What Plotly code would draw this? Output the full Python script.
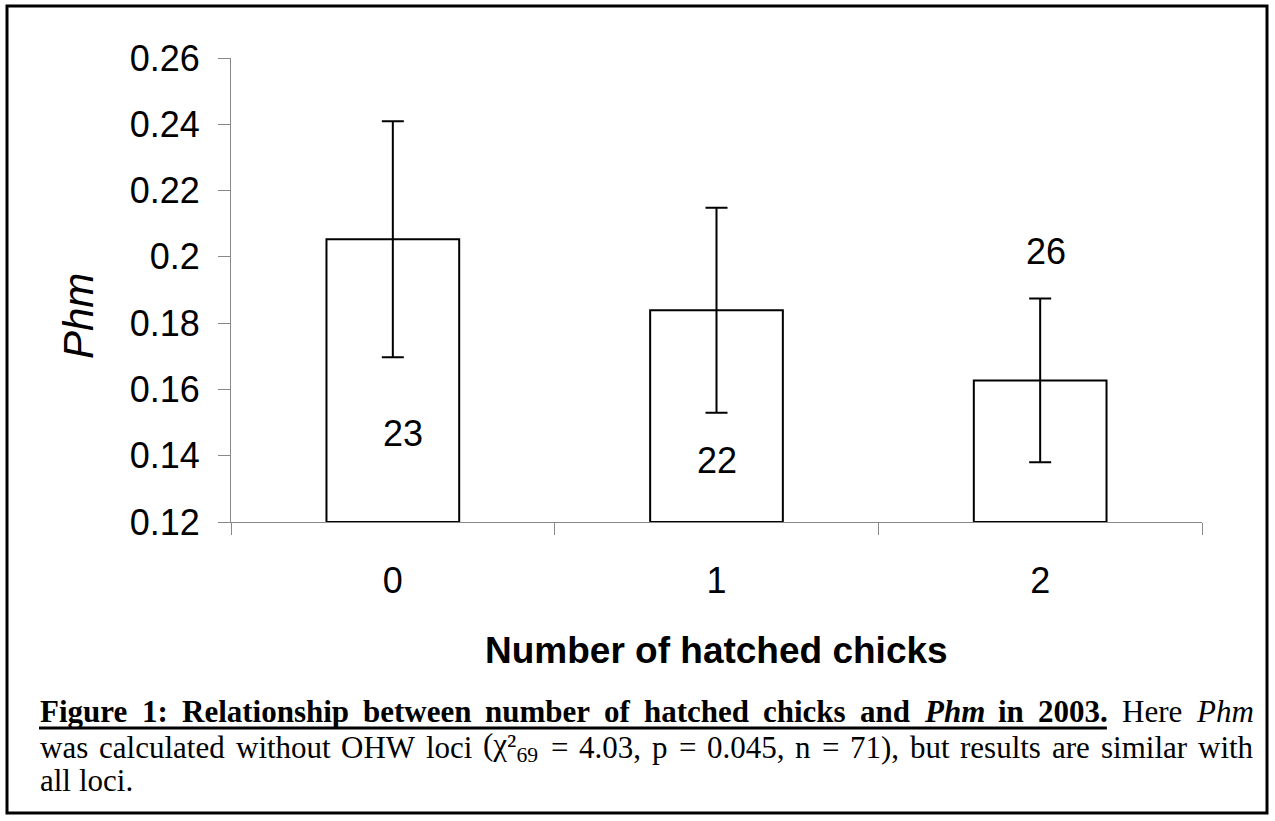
import re
import plotly.graph_objects as go

# ---- data ----
categories = ["0", "1", "2"]
means = [0.2053, 0.1839, 0.1627]
errors = [0.0356, 0.0309, 0.0247]
n_labels = ["23", "22", "26"]
y_ticks = [0.12, 0.14, 0.16, 0.18, 0.20, 0.22, 0.24, 0.26]
y_tick_text = ["0.12", "0.14", "0.16", "0.18", "0.2", "0.22", "0.24", "0.26"]
x_title = "Number of hatched chicks"
y_title = "Phm"

cap1_bold = ["Figure", "1:", "Relationship", "between", "number", "of", "hatched",
             "chicks", "and", "<i>Phm</i>", "in", "2003."]
cap1_plain = ["Here", "<i>Phm</i>"]
cap2_words = ["was", "calculated", "without", "OHW", "loci", "(χ²<sub>69</sub>",
              "=", "4.03,", "p", "=", "0.045,", "n", "=", "71),", "but", "results",
              "are", "similar", "with"]
cap3_words = ["all", "loci."]

# ---- layout constants (pixels) ----
W, H = 1275, 821
L, R, T, B = 231, 1202, 58, 522
y_min, y_max = 0.12, 0.26

label_y = [0.1467, 0.1387, 0.2015]
label_xshift = [10, 0, 6]

cap_left, cap_right = 39, 1252
cap_base = [722, 758, 791]
underline_y = 728
cap_size = 31

# approximate Times metrics (per 1000 em) used only to justify caption lines
REG = dict(zip("abcdefghijklmnopqrstuvwxyz",
               [444, 500, 444, 500, 444, 333, 500, 500, 278, 278, 500, 278, 778,
                500, 500, 500, 500, 333, 389, 278, 500, 500, 722, 500, 500, 444]))
REG.update({"F": 556, "H": 722, "O": 722, "P": 556, "R": 667, "W": 944, " ": 250,
            "(": 333, ")": 333, ",": 250, ".": 250, ":": 278, "=": 564, "χ": 500,
            "²": 300})
REG.update({d: 500 for d in "0123456789"})
BOLD = dict(REG)
BOLD.update(dict(zip("abcdefghijklmnopqrstuvwxyz",
                     [500, 556, 444, 556, 444, 333, 500, 556, 278, 333, 556, 278, 833,
                      556, 500, 556, 556, 444, 389, 333, 556, 500, 722, 500, 500, 444])))
BOLD.update({"F": 611, "R": 722, ":": 333})
ITAL = dict(REG)
ITAL.update({"P": 611, "h": 500, "m": 722})
BITAL = dict(BOLD)
BITAL.update({"P": 611, "h": 556, "m": 778})


def word_width(html, size, bold=False):
    scale, italic, b, w = 1.0, False, bold, 0.0
    for tok in re.split(r"(<[^>]+>)", html):
        if tok.startswith("<"):
            closing = tok.startswith("</")
            tag = tok.strip("</>")
            if tag in ("sup", "sub"):
                scale = 1.0 if closing else 0.7
            elif tag == "i":
                italic = not closing
            elif tag == "b":
                b = not closing
        else:
            table = BITAL if (b and italic) else BOLD if b else ITAL if italic else REG
            for ch in tok:
                w += table.get(ch, 500) * scale
    return w * size / 1000.0


def justify(words, left, right, size):
    widths = [word_width(w, size) for w in words]
    gap = (right - left - sum(widths)) / (len(words) - 1)
    xs, x = [], left
    for wd in widths:
        xs.append(x)
        x += wd + gap
    return xs, widths


def xp(px):
    return (px - L) / (R - L)


def yp(py):
    return (B - py) / (B - T)


fig = go.Figure()
fig.add_trace(go.Bar(
    x=categories,
    y=[m - y_min for m in means],
    base=y_min,
    width=0.41,
    marker=dict(color="white", line=dict(color="black", width=2)),
    error_y=dict(type="data", array=errors, symmetric=True, color="black",
                 thickness=2, width=11),
    cliponaxis=False,
    showlegend=False,
    hoverinfo="skip",
))

annotations = []
for i, lab in enumerate(n_labels):
    annotations.append(dict(x=categories[i], y=label_y[i], xref="x", yref="y",
                            text=lab, showarrow=False, xshift=label_xshift[i],
                            font=dict(family="Liberation Sans", size=36, color="black"),
                            xanchor="center", yanchor="middle"))

# axis titles
annotations.append(dict(x=0.5, y=yp(650), xref="paper", yref="paper",
                        text="<b>" + x_title + "</b>", showarrow=False,
                        font=dict(family="Liberation Sans", size=37, color="black"),
                        xanchor="center", yanchor="middle"))
annotations.append(dict(x=xp(78), y=yp(316), xref="paper", yref="paper",
                        text="<i>" + y_title + "</i>", showarrow=False, textangle=-90,
                        font=dict(family="Liberation Sans", size=42, color="black"),
                        xanchor="center", yanchor="middle"))

# caption (justified like the source paragraph)
line1 = ["<b>" + w + "</b>" for w in cap1_bold] + cap1_plain
line1_x, line1_w = justify(line1, cap_left, cap_right, cap_size)
line2_x, _ = justify(cap2_words, cap_left, cap_right, cap_size)
line3_x, x = [], cap_left
for w in cap3_words:
    line3_x.append(x)
    x += word_width(w, cap_size) + REG[" "] * cap_size / 1000.0

underline_end = line1_x[len(cap1_bold) - 1] + line1_w[len(cap1_bold) - 1]


def add_words(words, xs, base_px):
    for w, x in zip(words, xs):
        annotations.append(dict(x=xp(x), y=yp(base_px - 0.34 * cap_size), xref="paper",
                                yref="paper", text=w, showarrow=False, borderpad=0,
                                font=dict(family="Liberation Serif", size=cap_size,
                                          color="black"),
                                xanchor="left", yanchor="middle"))


add_words(line1, line1_x, cap_base[0])
add_words(cap2_words, line2_x, cap_base[1])
add_words(cap3_words, line3_x, cap_base[2])

shapes = [
    dict(type="line", xref="paper", yref="paper", x0=xp(cap_left), x1=xp(underline_end),
         y0=yp(underline_y), y1=yp(underline_y), line=dict(color="black", width=3)),
    dict(type="rect", xref="paper", yref="paper", x0=xp(7), x1=xp(1267),
         y0=yp(813), y1=yp(6), line=dict(color="black", width=3)),
]

fig.update_layout(
    width=W, height=H, autosize=False,
    margin=dict(l=L, r=W - R, t=T, b=H - B, pad=0),
    paper_bgcolor="white", plot_bgcolor="white",
    annotations=annotations, shapes=shapes,
    xaxis=dict(type="category", range=[-0.5, 2.5], showline=True, linecolor="#888888",
               linewidth=1, ticks="outside", ticklen=12, tickcolor="#888888",
               tickwidth=1, tickson="boundaries", showgrid=False, zeroline=False,
               tickfont=dict(family="Liberation Sans", size=36, color="black"),
               ticklabelstandoff=27, layer="below traces"),
    yaxis=dict(range=[y_min, y_max], tickvals=y_ticks, ticktext=y_tick_text,
               showline=True, linecolor="#888888", linewidth=1, ticks="outside",
               ticklen=12, tickcolor="#888888", tickwidth=1, showgrid=False,
               zeroline=False,
               tickfont=dict(family="Liberation Sans", size=36, color="black"),
               ticklabelstandoff=11, layer="below traces"),
)

fig.write_html("out.html", config={"displayModeBar": False, "staticPlot": True},
               post_script="document.body.style.margin='0';"
                           "document.body.style.overflow='hidden';")
